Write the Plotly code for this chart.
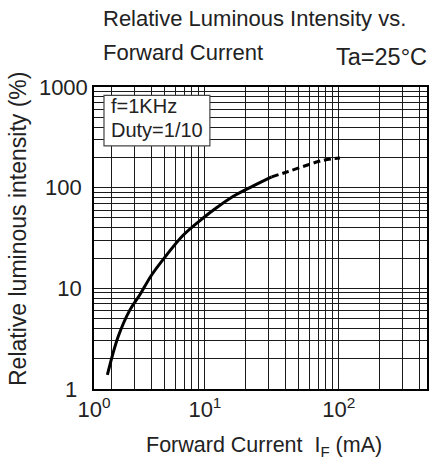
import numpy as np
import plotly.graph_objects as go

# ---- data ----
current_solid = [1.87, 2.25, 2.75, 3.26, 3.99, 5.17, 6.88, 9.71, 12.0, 16.3, 22.6, 31.5]
intensity_solid = [1.38, 3.30, 6.08, 8.57, 13.5, 21.4, 33.7, 50.0, 62.0, 82.0, 103, 128]
current_dash = [31.5, 40.8, 57.6, 76.7, 102]
intensity_dash = [128, 143, 167, 187, 197]

x_range = [1.486, 455]
y_range = [1, 1000]

x_tick_vals = [x_range[0], 10, 100]
x_tick_text = ["10<sup>0</sup>", "10<sup>1</sup>", "10<sup>2</sup>"]
y_tick_vals = [1, 10, 100, 1000]
y_tick_text = ["1\u00a0\u2009", "10\u00a0", "100\u00a0", "1000"]

title_line1 = "Relative Luminous Intensity vs."
title_line2 = "Forward Current"
condition = "Ta=25°C"
note_lines = ["f=1KHz", "Duty=1/10"]
x_title = "Forward Current  I<sub>F</sub> (mA)"
y_title = "Relative luminous intensity (%)"

FONT = "Liberation Sans, Arial, sans-serif"
TXT = "#222222"
GRID = "#1a1a1a"

fig = go.Figure()

fig.add_trace(go.Scatter(x=current_solid, y=intensity_solid, mode="lines",
                         line=dict(color="black", width=3, shape="spline", smoothing=1.0),
                         showlegend=False, hoverinfo="skip"))
fig.add_trace(go.Scatter(x=current_dash, y=intensity_dash, mode="lines",
                         line=dict(color="black", width=3, dash="7px,4px",
                                   shape="spline", smoothing=1.0),
                         showlegend=False, hoverinfo="skip"))

common = dict(type="log", showgrid=True, gridcolor=GRID, gridwidth=1,
              showline=True, linecolor="black", linewidth=1.5, mirror=True,
              ticks="", zeroline=False, automargin=False,
              minor=dict(dtick="D1", showgrid=True, gridcolor=GRID, gridwidth=1, ticks=""),
              tickfont=dict(family=FONT, size=22, color=TXT))

fig.update_xaxes(range=[np.log10(x_range[0]), np.log10(x_range[1])],
                 tickmode="array", tickvals=x_tick_vals, ticktext=x_tick_text,
                 **common)
fig.update_yaxes(range=[np.log10(y_range[0]), np.log10(y_range[1])],
                 tickmode="array", tickvals=y_tick_vals, ticktext=y_tick_text,
                 **common)

# axis titles
fig.add_annotation(xref="paper", yref="paper", x=0.510, y=-0.192, xanchor="center",
                   yanchor="middle", text=x_title, showarrow=False,
                   font=dict(family=FONT, size=21.5, color=TXT))
fig.add_annotation(xref="paper", yref="paper", x=-0.229, y=0.529, xanchor="center",
                   yanchor="middle", text=y_title, showarrow=False, textangle=-90,
                   font=dict(family=FONT, size=23, color=TXT))

# note box
fig.add_shape(type="rect", xref="paper", yref="paper", x0=0.030, x1=0.348,
              y0=0.805, y1=0.9725, fillcolor="white",
              line=dict(color="#444444", width=1.2), layer="above")
fig.add_annotation(xref="paper", yref="paper", x=0.045, y=0.937, xanchor="left",
                   yanchor="middle", text=note_lines[0], showarrow=False,
                   font=dict(family=FONT, size=20, color=TXT))
fig.add_annotation(xref="paper", yref="paper", x=0.045, y=0.856, xanchor="left",
                   yanchor="middle", text=note_lines[1], showarrow=False,
                   font=dict(family=FONT, size=20, color=TXT))

# titles
fig.add_annotation(xref="paper", yref="paper", x=0.022, y=1.227, xanchor="left",
                   yanchor="middle", text=title_line1, showarrow=False,
                   font=dict(family=FONT, size=22, color=TXT))
fig.add_annotation(xref="paper", yref="paper", x=0.022, y=1.115, xanchor="left",
                   yanchor="middle", text=title_line2, showarrow=False,
                   font=dict(family=FONT, size=22, color=TXT))
fig.add_annotation(xref="paper", yref="paper", x=1.006, y=1.098, xanchor="right",
                   yanchor="middle", text=condition, showarrow=False,
                   font=dict(family=FONT, size=23.5, color=TXT))

fig.update_layout(width=432, height=464,
                  margin=dict(l=94, r=5, t=87, b=75),
                  paper_bgcolor="white", plot_bgcolor="white",
                  showlegend=False)

fig.write_html("out.html", config={"displayModeBar": False},
               post_script="document.body.style.margin='0';document.body.style.overflow='hidden';")
